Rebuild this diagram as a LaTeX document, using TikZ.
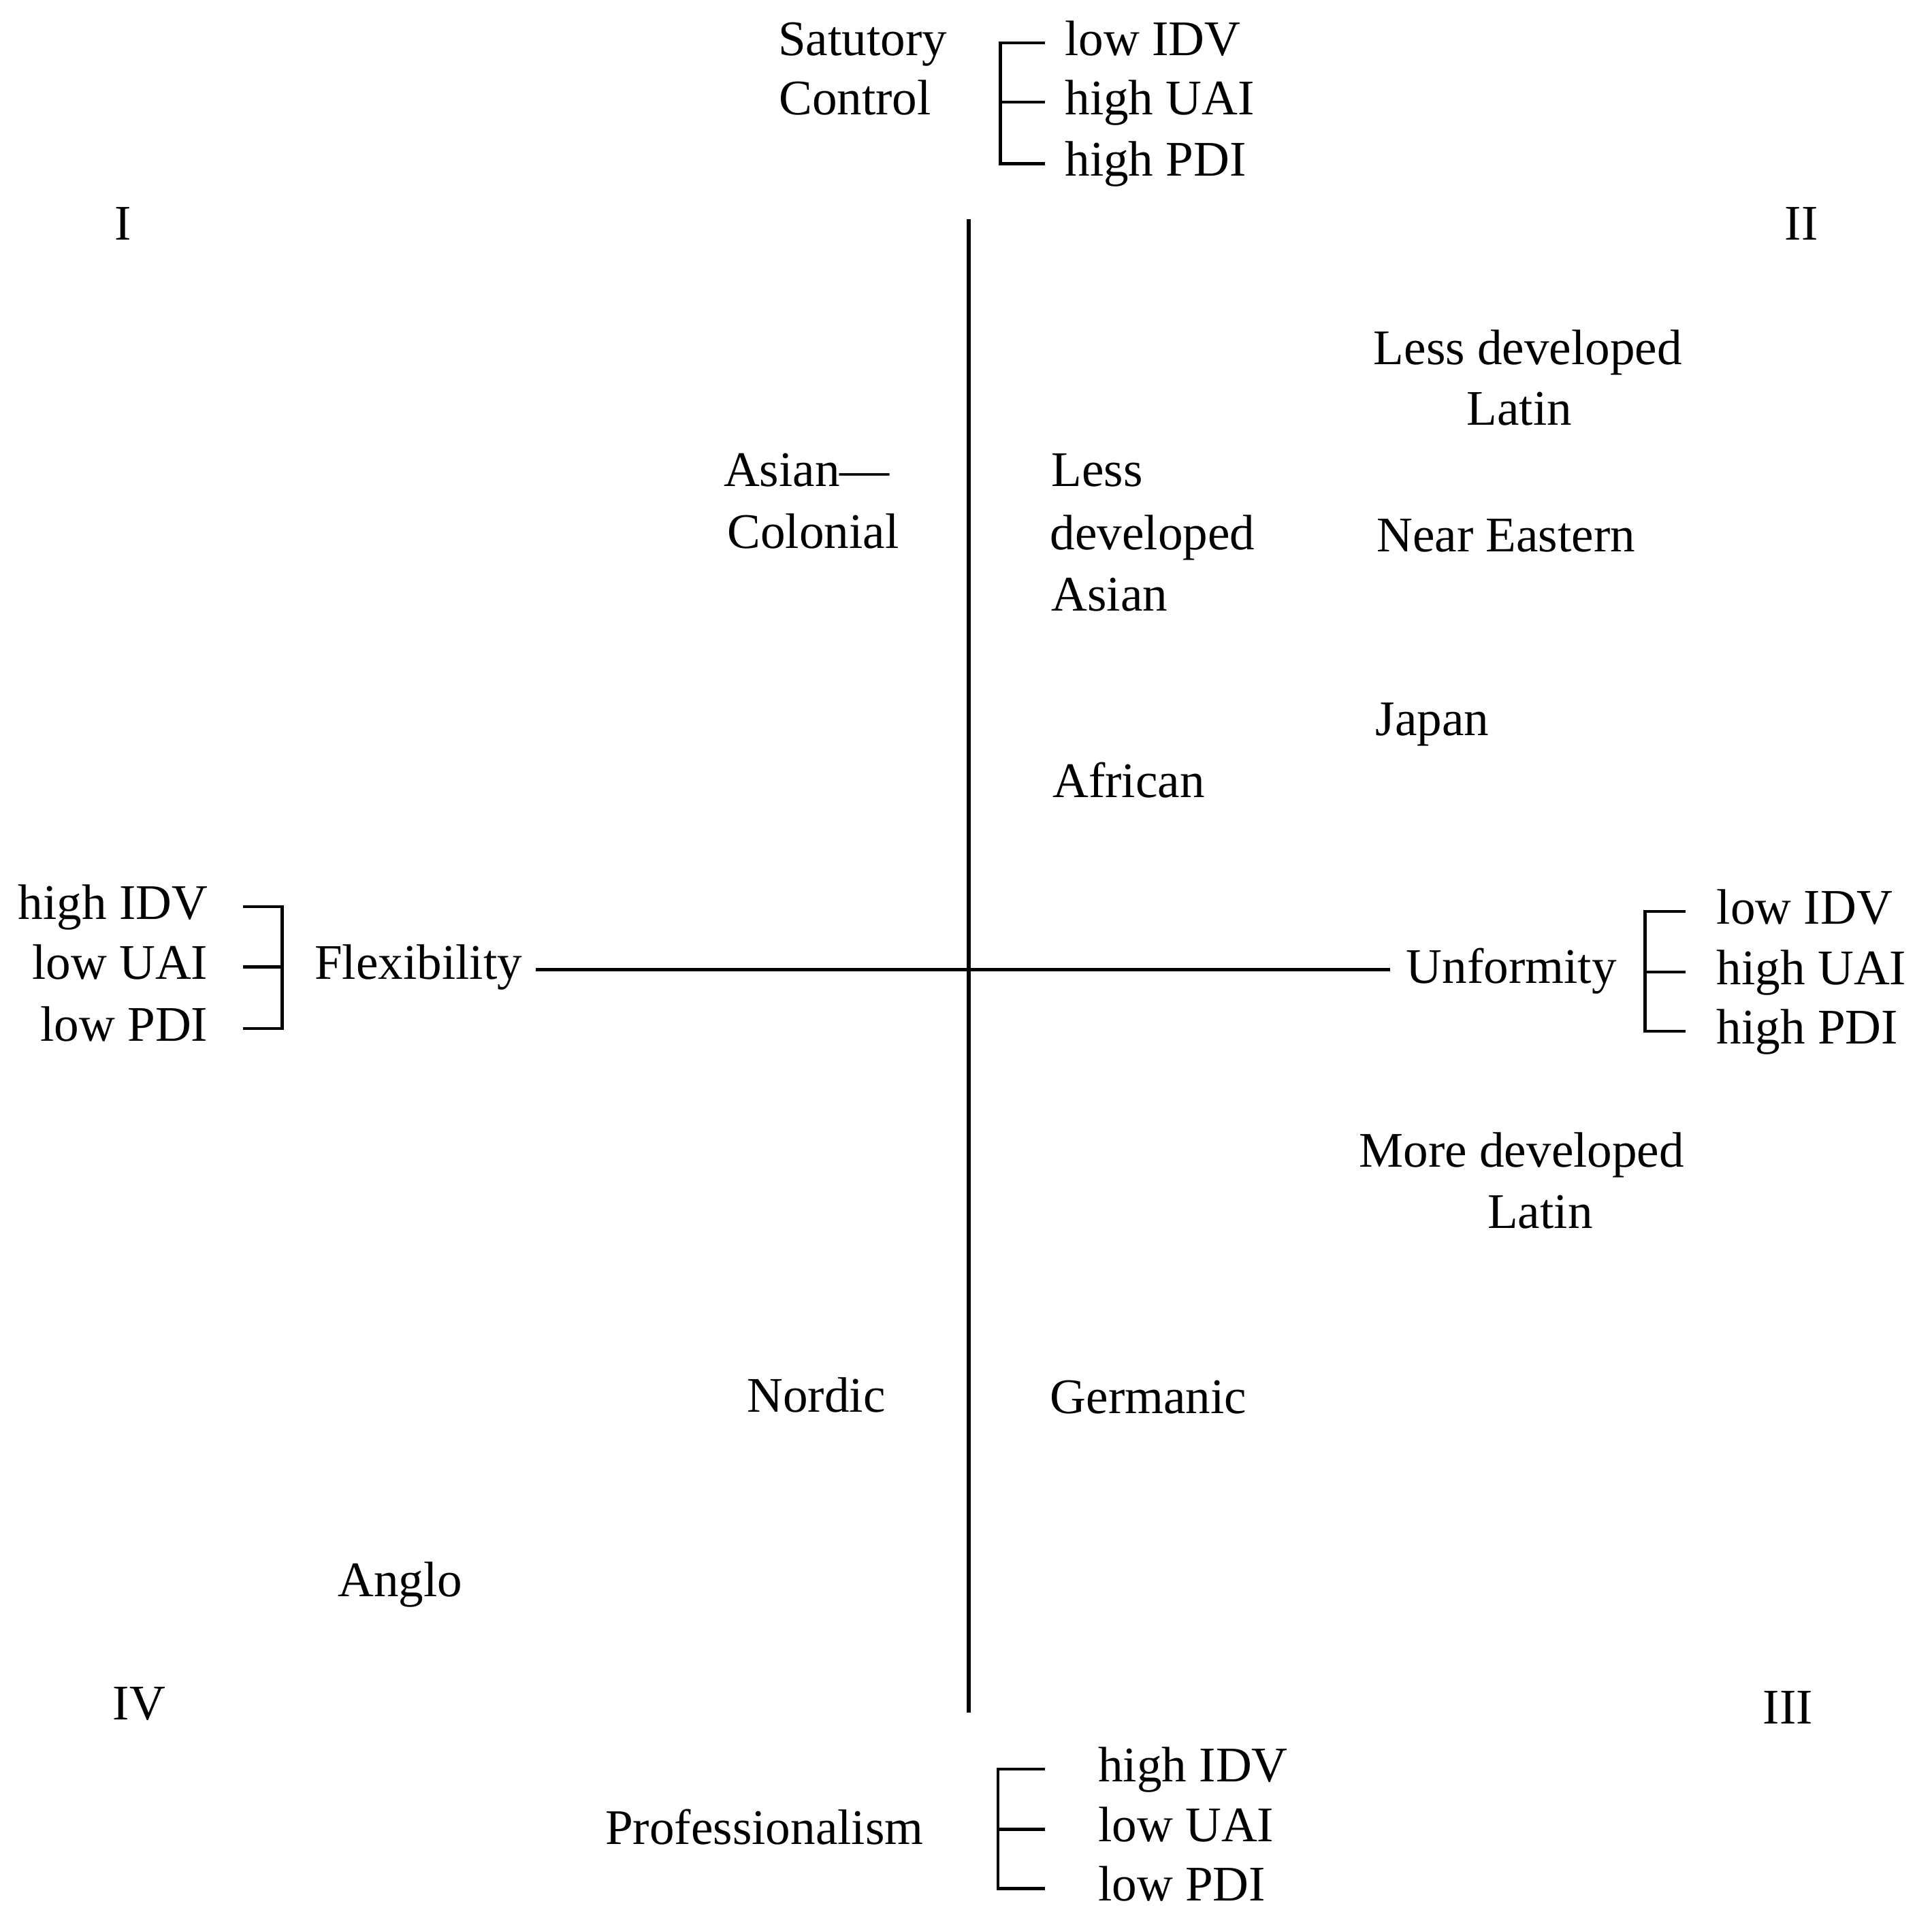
\documentclass[tikz,border=0pt]{standalone}
\usepackage{fontspec}
\setmainfont{Liberation Serif}
\begin{document}
\begin{tikzpicture}[x=0.02cm,y=-0.02cm,
  lab/.style={inner sep=0pt, text height=16pt, text depth=4.5pt,
              font=\fontsize{23pt}{28pt}\selectfont},
  axisline/.style={line width=1.8pt},
  brk/.style={line width=1.4pt}]
\useasboundingbox (0,0) rectangle (1568,1550);

% ---- top: statutory control ----
\node[lab,anchor=base] (sat1) at (700,45) {Satutory};
\node[lab,anchor=base] (sat2) at (694,93) {Control};
\node[lab,anchor=base west] (tl1) at (864,45)  {low IDV};
\node[lab,anchor=base west] (tl2) at (864,93)  {high UAI};
\node[lab,anchor=base west] (tl3) at (864,143) {high PDI};
\draw[brk] ([xshift=-0.32cm]tl1.west) -| ([xshift=-1.04cm]tl3.west) -- ([xshift=-0.32cm]tl3.west);
\draw[brk] ([xshift=-0.32cm]tl2.west) -- ([xshift=-1.04cm]tl2.west);

% ---- quadrant numerals ----
\node[lab,anchor=base] (q1) at (100,195)  {I};
\node[lab,anchor=base] (q2) at (1462,195) {II};
\node[lab,anchor=base] (q4) at (113,1396) {IV};
\node[lab,anchor=base] (q3) at (1451,1399) {III};

% ---- axes ----
\coordinate (axt) at (786,178);
\coordinate (axb) at (786,1390);
\coordinate (axl) at (435,787);
\coordinate (axr) at (1128,787);
\draw[axisline] (axt) -- (axb);
\draw[axisline] (axl) -- (axr);

% ---- left: flexibility ----
\node[lab,anchor=base east] (ll1) at (169,746) {high IDV};
\node[lab,anchor=base east] (ll2) at (169,795) {low UAI};
\node[lab,anchor=base east] (ll3) at (169,845) {low PDI};
\draw[brk] ([xshift=0.56cm]ll1.east) -| ([xshift=1.2cm]ll3.east) -- ([xshift=0.56cm]ll3.east);
\draw[brk] ([xshift=0.56cm]ll2.east) -- ([xshift=1.2cm]ll2.east);
\node[lab,anchor=base west] (flex) at (255,795) {Flexibility};

% ---- right: uniformity ----
\node[lab,anchor=base west] (unf) at (1141,798) {Unformity};
\node[lab,anchor=base west] (rl1) at (1393,750) {low IDV};
\node[lab,anchor=base west] (rl2) at (1393,799) {high UAI};
\node[lab,anchor=base west] (rl3) at (1393,847) {high PDI};
\draw[brk] ([xshift=-0.5cm]rl1.west) -| ([xshift=-1.16cm]rl3.west) -- ([xshift=-0.5cm]rl3.west);
\draw[brk] ([xshift=-0.5cm]rl2.west) -- ([xshift=-1.16cm]rl2.west);

% ---- bottom: professionalism ----
\node[lab,anchor=base west] (prof) at (491,1497) {Professionalism};
\node[lab,anchor=base west] (bl1) at (891,1446) {high IDV};
\node[lab,anchor=base west] (bl2) at (891,1495) {low UAI};
\node[lab,anchor=base west] (bl3) at (891,1543) {low PDI};
\draw[brk] ([xshift=-0.86cm]bl1.west) -| ([xshift=-1.62cm]bl3.west) -- ([xshift=-0.86cm]bl3.west);
\draw[brk] ([xshift=-0.86cm]bl2.west) -- ([xshift=-1.62cm]bl2.west);

% ---- country clusters ----
\node[lab,anchor=base] (ldl1) at (1240,296) {Less developed};
\node[lab,anchor=base] (ldl2) at (1233,345) {Latin};
\node[lab,anchor=base west] (ac1) at (587,395) {Asian---};
\node[lab,anchor=base west] (ac2) at (590,445) {Colonial};
\node[lab,anchor=base west] (lda1) at (853,395) {Less};
\node[lab,anchor=base west] (lda2) at (852,446) {developed};
\node[lab,anchor=base west] (lda3) at (853,496) {Asian};
\node[lab,anchor=base west] (ne) at (1117,448) {Near Eastern};
\node[lab,anchor=base west] (jp) at (1116,597) {Japan};
\node[lab,anchor=base west] (af) at (854,647) {African};
\node[lab,anchor=base] (mdl1) at (1235,947) {More developed};
\node[lab,anchor=base] (mdl2) at (1250,997) {Latin};
\node[lab,anchor=base west] (nord) at (606,1146) {Nordic};
\node[lab,anchor=base west] (germ) at (852,1147) {Germanic};
\node[lab,anchor=base west] (anglo) at (274,1296) {Anglo};
\end{tikzpicture}
\end{document}
